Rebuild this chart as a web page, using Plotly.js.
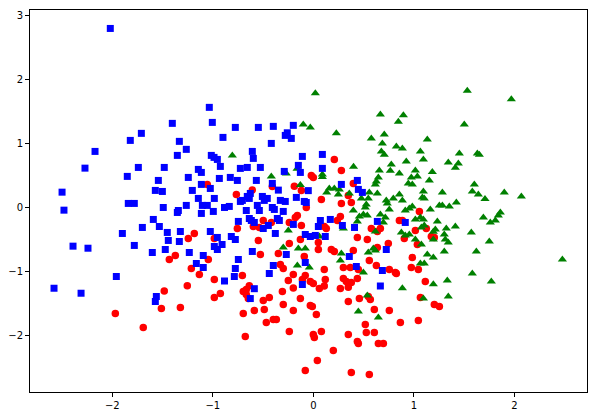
<!DOCTYPE html>
<html>
<head>
<meta charset="utf-8">
<script src="https://cdn.plot.ly/plotly-3.0.1.min.js"></script>
<style>
  body { margin: 0; background: #fff; }
  #plot { width: 597px; height: 415px; }
</style>
</head>
<body>
<div id="plot"></div>
<script>
// class 1: blue squares
var blueX = [-2.02,-1.035,-1.403,-1.005,-1.711,-0.899,-1.821,-1.333,-2.172,-1.264,-1.353,-1.015,-0.988,-0.955,-1.741,-1.483,-0.925,-1.144,-1.114,-1.851,-1.244,-0.935,-1.542,-1.114,-1.025,-1.572,-1.502,-1.204,
  -0.776,-0.547,-0.398,-0.199,-0.259,-0.279,-0.219,-0.418,-0.607,-0.597,-0.109,0.090,-0.726,-0.657,-0.527,-0.149,-0.289,-0.129,0.090,-0.826,-0.756,-0.567,-0.408,0.279,-0.348,-0.050,
  0.438,0.448,0.488,-1.841,-1.781,-1.493,-1.343,-1.353,-1.264,-1.144,-0.985,-1.104,-1.055,-0.995,-1.114,-0.884,-1.592,-1.701,-1.532,-1.900,-1.453,-1.323,-1.025,-0.955,-1.443,-1.333,
  -1.781,-0.985,-0.955,-0.908,-1.473,-1.602,-1.234,-1.095,-1.164,-1.095,-1.960,-0.884,-0.627,-0.657,-0.637,-0.706,-0.726,-0.836,-0.667,-0.557,-0.537,-0.507,-0.458,-0.488,-0.328,
  -0.279,-0.169,-0.090,-0.070,-0.408,-0.388,-0.299,-0.746,-0.637,-0.617,-0.587,-0.448,-0.498,-0.358,-0.338,-0.199,-0.378,0.070,0.050,0.169,0.289,0.410,-0.816,-0.776,-0.080,-0.030,
  0.020,0.119,-0.607,-0.269,0.358,-0.746,-0.080,-0.398,-0.776,-0.438,-0.786,-0.109,-0.587,0.637,0.915,0.726,0.428,0.687,0.667,-1.562,-1.572,-0.627,-2.58,-2.500,-2.481,-2.391,
  -2.311,-2.272,-2.242];
var blueY = [2.79,1.558,1.308,1.323,1.152,1.089,1.042,1.027,0.870,0.902,0.808,0.808,0.777,0.745,0.620,0.620,0.636,0.589,0.542,0.480,0.464,0.448,0.417,0.355,0.292,0.261,0.245,0.261,
  1.245,1.245,1.261,1.277,1.161,1.120,1.073,0.995,0.870,0.761,0.792,0.823,0.605,0.620,0.620,0.652,0.558,0.542,0.605,0.464,0.417,0.417,0.370,0.355,0.266,0.258,
  0.417,0.277,0.230,0.058,0.058,-0.005,-0.052,-0.083,0.027,0.136,0.136,0.027,0.027,-0.067,-0.098,-0.005,-0.192,-0.317,-0.302,-0.411,-0.395,-0.380,-0.380,-0.473,-0.520,-0.536,
  -0.598,-0.614,-0.661,-0.583,-0.661,-0.708,-0.708,-0.755,-0.880,-0.942,-1.083,-1.153,0.214,0.167,0.136,0.105,0.089,0.011,-0.052,0.027,-0.052,0.167,0.136,0.105,0.105,
  0.089,0.152,0.089,0.073,-0.005,-0.036,-0.067,-0.223,-0.177,-0.208,-0.239,-0.286,-0.333,-0.177,-0.208,-0.270,-0.411,-0.208,-0.302,-0.192,-0.286,-0.317,-0.458,-0.505,-0.427,-0.458,
  -0.442,-0.458,-0.692,-0.739,-0.770,-0.817,-0.864,-0.911,-0.958,-1.036,-1.083,-1.208,-1.273,-0.223,-0.239,-0.661,-0.927,-0.989,-1.231,-1.395,-1.473,-1.427,-1.266,0.234,-0.047,-0.609,
  -1.344,0.609,-0.641];

// class 2: red circles
var redX = [-1.055,0.209,0.279,-0.020,0.000,-0.189,0.398,-0.607,-0.119,-1.184,-1.244,-0.985,-1.373,-1.433,-1.045,-1.214,-1.134,-0.985,-1.254,-1.483,
  -0.766,-0.408,-0.070,0.080,0.348,0.279,0.378,-0.756,-0.597,-0.537,-0.498,-0.418,-0.179,-0.159,-0.239,-0.119,0.109,0.129,0.269,0.239,
  -0.547,-0.129,0.050,-0.239,-0.527,-0.348,0.050,0.179,0.209,0.398,-0.090,-0.328,-0.299,0.109,0.299,0.368,-0.199,-0.706,-0.080,-0.109,
  -0.249,-0.030,0.000,0.119,0.109,0.299,0.328,0.378,0.269,0.348,-0.199,-0.637,-0.667,1.055,0.856,0.886,1.124,0.577,0.667,0.637,
  1.015,0.905,1.174,1.204,0.438,0.537,0.746,1.035,0.637,0.985,0.557,0.627,0.975,1.045,0.756,0.816,0.826,0.448,0.438,1.114,
  -1.970,-1.692,-1.512,-1.323,-0.985,-0.925,-0.697,-0.667,-0.647,-0.697,-0.587,-0.498,-0.438,-0.488,-0.308,-0.299,-0.468,-0.398,-0.368,-0.677,
  -0.239,0.060,-0.129,-0.030,-0.010,-0.199,0.030,0.348,0.458,0.567,0.547,0.607,0.756,1.065,1.204,1.254,0.866,1.045,0.517,0.527,
  0.607,0.348,0.000,0.010,0.080,0.438,0.448,0.647,0.697,0.199,0.040,-0.080,0.378,0.557];
var redY = [0.355,0.745,0.573,0.495,0.464,0.328,0.370,0.266,0.258,-0.411,-0.489,-0.489,-0.755,-0.817,-0.817,-0.958,-1.052,-1.130,-1.227,-1.308,
  0.198,0.323,-0.005,0.120,0.183,0.058,0.073,-0.333,-0.302,-0.317,-0.208,-0.239,-0.161,-0.130,-0.239,-0.286,-0.302,-0.333,-0.145,-0.208,
  -0.520,-0.505,-0.552,-0.567,-0.739,-0.723,-0.661,-0.661,-0.692,-0.677,-0.770,-0.895,-0.958,-0.973,-0.942,-0.942,-1.052,-1.067,-1.067,-1.130,
  -1.145,-1.161,-1.192,-1.130,-1.231,-1.114,-1.161,-1.177,-1.270,-1.250,-1.263,-1.227,-1.286,-0.067,-0.208,-0.208,-0.333,-0.333,-0.333,-0.380,
  -0.364,-0.489,-0.458,-0.473,-0.473,-0.505,-0.567,-0.583,-0.630,-0.786,-0.833,-0.911,-0.942,-0.973,-0.973,-1.020,-1.036,-0.973,-1.114,-1.161,
  -1.661,-1.880,-1.583,-1.567,-1.411,-1.348,-1.317,-1.364,-1.427,-1.661,-1.614,-1.458,-1.411,-1.598,-1.317,-1.520,-1.802,-1.755,-1.755,-2.020,
  -1.942,-1.270,-1.427,-1.536,-1.552,-1.614,-1.677,-1.473,-1.427,-1.442,-1.395,-1.598,-1.614,-1.411,-1.520,-1.552,-1.802,-1.770,-1.833,-1.958,
  -1.958,-1.989,-1.989,-2.036,-1.942,-2.098,-2.130,-2.130,-2.130,-2.239,-2.395,-2.552,-2.583,-2.614];

// class 3: green triangles
var greenX = [0.020,-0.100,-0.030,0.229,-0.806,0.400,-0.162,-0.269,0.090,0.090,-0.418,-0.129,0.159,0.209,0.259,1.532,1.970,0.667,0.896,0.846,
  1.502,0.577,0.706,1.134,0.687,0.826,0.886,0.677,0.706,1.065,1.453,1.632,1.652,1.095,0.925,1.343,1.443,1.413,0.776,0.657,
  0.766,1.015,0.856,1.184,1.035,0.975,0.647,0.627,1.154,0.945,0.985,0.617,1.602,0.133,0.249,0.358,0.398,-0.249,0.299,0.060,
  -0.299,-0.149,-0.080,0.279,0.269,-0.159,-0.040,0.557,0.637,0.547,0.478,0.856,0.796,0.886,1.095,1.085,1.104,1.284,1.582,1.642,
  0.726,0.736,0.527,0.517,0.756,0.955,0.915,0.985,1.164,1.254,1.284,1.353,1.423,1.708,0.498,0.537,0.458,0.667,0.716,0.697,
  0.438,1.015,1.065,1.095,1.104,1.075,1.234,1.214,1.194,1.323,1.413,1.692,0.617,0.876,0.915,0.955,1.194,1.303,1.313,1.343,
  1.572,1.015,1.075,0.597,0.617,0.547,1.303,1.622,1.134,1.194,1.065,1.104,0.498,1.582,1.194,1.333,0.886,0.537,0.448,0.647,
  1.095,1.343,1.900,2.070,1.861,1.841,1.811,1.761,1.751,2.478,1.771];
var greenY = [1.777,1.292,1.245,1.152,0.808,0.630,0.598,0.527,0.511,0.469,0.480,0.344,0.292,0.292,0.277,1.817,1.683,1.448,1.433,1.333,
  1.292,1.073,1.136,1.058,0.995,0.948,0.917,0.870,0.817,0.870,0.839,0.839,0.817,0.745,0.714,0.698,0.683,0.614,0.667,0.573,
  0.567,0.573,0.527,0.547,0.480,0.464,0.464,0.402,0.417,0.370,0.355,0.355,0.355,0.230,0.198,0.214,-0.052,-0.364,-0.333,-0.458,
  -0.630,-0.645,-0.645,-0.723,-0.833,-0.911,-0.942,0.230,0.214,0.136,0.136,0.198,0.136,0.105,0.245,0.152,0.136,0.230,0.245,0.198,
  0.105,0.058,0.042,-0.005,-0.036,-0.020,-0.052,0.011,-0.036,0.027,0.027,0.011,0.073,0.128,-0.114,-0.130,-0.145,-0.114,-0.161,-0.239,
  -0.223,-0.192,-0.161,-0.192,-0.286,-0.317,-0.223,-0.348,-0.386,-0.333,-0.302,-0.161,-0.380,-0.395,-0.442,-0.427,-0.505,-0.427,-0.505,-0.552,
  -0.395,-0.505,-0.583,-0.645,-0.677,-0.708,-0.692,-0.692,-0.739,-0.786,-0.880,-0.880,-1.020,-1.036,-1.203,-1.145,-1.266,-1.380,-1.630,-1.723,
  -1.427,-1.395,0.230,0.167,-0.083,-0.130,-0.208,-0.239,-0.536,-0.817,-1.161];

var xTicks = [-2, -1, 0, 1, 2];
var yTicks = [-2, -1, 0, 1, 2, 3];

var data = [
  { x: redX, y: redY, type: "scatter", mode: "markers",
    marker: { symbol: "circle", size: 7.5, color: "#ff0000" } },
  { x: greenX, y: greenY, type: "scatter", mode: "markers",
    marker: { symbol: "triangle-up", size: 8, color: "#008000" } },
  { x: blueX, y: blueY, type: "scatter", mode: "markers",
    marker: { symbol: "square", size: 7, color: "#0000ff" } }
];

var axisStyle = {
  showgrid: false, zeroline: false,
  showline: true, mirror: true, linecolor: "#000", linewidth: 1,
  ticks: "outside", ticklen: 4, tickwidth: 1, tickcolor: "#000",
  tickfont: { family: "DejaVu Sans", size: 10, color: "#000" }
};

var layout = {
  width: 597, height: 415,
  margin: { l: 30, r: 10, t: 10, b: 23 },
  showlegend: false,
  paper_bgcolor: "#fff", plot_bgcolor: "#fff",
  xaxis: Object.assign({}, axisStyle, { range: [-2.819, 2.723], tickvals: xTicks }),
  yaxis: Object.assign({}, axisStyle, { range: [-2.886, 3.078], tickvals: yTicks })
};

Plotly.newPlot("plot", data, layout, { staticPlot: true, displayModeBar: false });
</script>
</body>
</html>
